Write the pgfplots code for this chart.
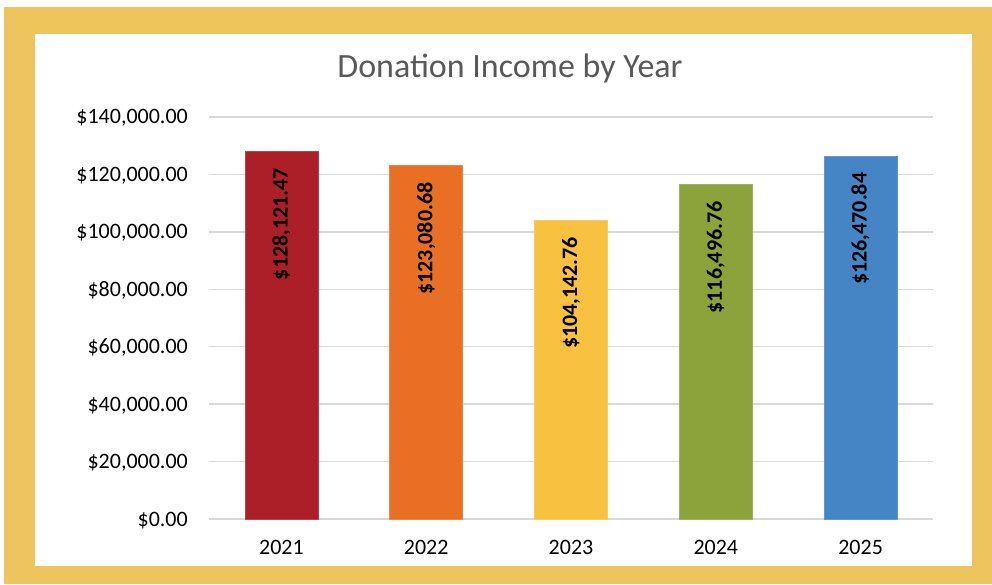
\documentclass[border=0pt]{standalone}
\usepackage{pgfplots}
\pgfplotsset{compat=1.18}
\usepackage{fontspec}
\setmainfont{Carlito}

\definecolor{framegold}{HTML}{EEC45C}
\definecolor{titlegray}{HTML}{595959}
\definecolor{gridgray}{HTML}{D9D9D9}
\definecolor{cred}{HTML}{AD1F28}
\definecolor{corange}{HTML}{E96F24}
\definecolor{cyellow}{HTML}{F8C13F}
\definecolor{cgreen}{HTML}{8CA33B}
\definecolor{cblue}{HTML}{4585C5}

\begin{document}
\begin{tikzpicture}
% page, gold frame and white chart area (1pt ~ 1px, origin = plot's lower left)
\fill[white] (-209pt,-65pt) rectangle (783pt,519pt);
\fill[framegold] (-205pt,-65pt) rectangle (783pt,512pt);
\fill[white] (-174pt,-47pt) rectangle (763pt,485pt);
\node[anchor=base, text=titlegray, inner sep=0pt, font=\fontsize{34}{40}\selectfont]
  at (301pt,441pt) {Donation Income by Year};

\begin{axis}[
  at={(0pt,0pt)}, anchor=south west,
  scale only axis, width=724pt, height=402pt,
  xmin=-0.5, xmax=4.5, ymin=0, ymax=140000,
  scaled y ticks=false,
  axis lines*=left, axis line style={draw=none},
  ymajorgrids, grid style={gridgray, line width=1.3pt},
  major tick length=0pt,
  xtick={0,1,2,3,4}, xticklabels={2021,2022,2023,2024,2025},
  ytick={0,20000,40000,60000,80000,100000,120000,140000},
  yticklabels={{\$0.00},{\$20,000.00},{\$40,000.00},{\$60,000.00},{\$80,000.00},{\$100,000.00},{\$120,000.00},{\$140,000.00}},
  tick label style={font=\fontsize{22}{26}\selectfont, inner sep=0pt},
  yticklabel style={anchor=base east, xshift=-21pt, yshift=-7pt},
  xticklabel style={anchor=base, yshift=-35pt},
  ybar, bar width=73pt, bar shift=0pt,
  point meta=explicit symbolic,
  nodes near coords,
  nodes near coords style={rotate=90, anchor=east, inner sep=0pt, outer xsep=17pt,
    font=\bfseries\fontsize{22}{26}\selectfont, text=black},
]
\addplot[fill=cred, draw=cred!85!white, line width=0.6pt] coordinates {(0,128121.47) [{\$128,121.47}]};
\addplot[fill=corange, draw=corange!85!white, line width=0.6pt] coordinates {(1,123080.68) [{\$123,080.68}]};
\addplot[fill=cyellow, draw=cyellow!85!white, line width=0.6pt] coordinates {(2,104142.76) [{\$104,142.76}]};
\addplot[fill=cgreen, draw=cgreen!85!white, line width=0.6pt] coordinates {(3,116496.76) [{\$116,496.76}]};
\addplot[fill=cblue, draw=cblue!85!white, line width=0.6pt] coordinates {(4,126470.84) [{\$126,470.84}]};
\end{axis}
\end{tikzpicture}
\end{document}
